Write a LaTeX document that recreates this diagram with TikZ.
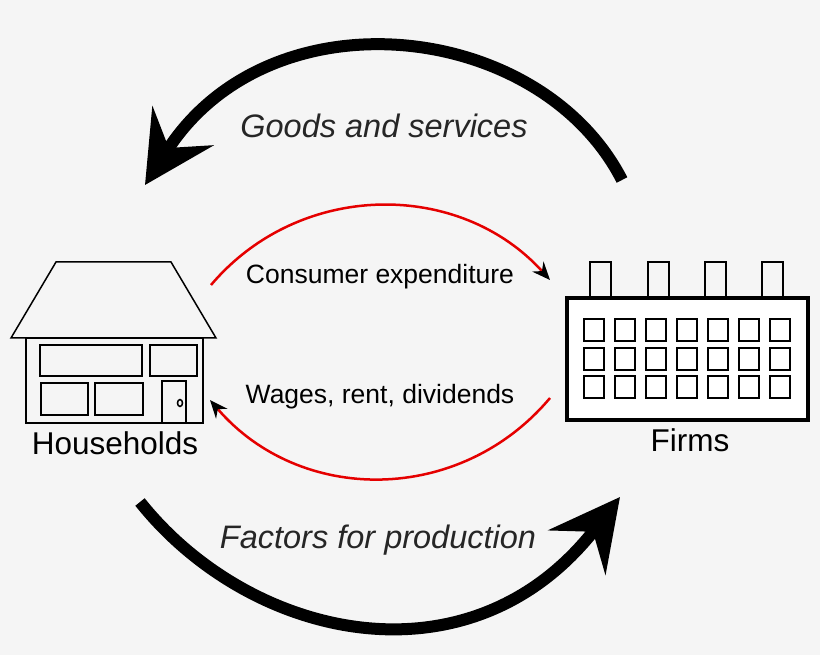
\documentclass[tikz,border=0pt]{standalone}
\usepackage{fontspec}
\setmainfont{Liberation Sans}
\usetikzlibrary{arrows.meta}
\begin{document}
\begin{tikzpicture}[x=1pt,y=-1pt,
  thin line/.style={line width=1.5pt,black},
  big/.style={line width=12pt,-{Stealth[length=70pt,width=72pt,inset=26pt]}},
  red arc/.style={line width=2.5pt,red!90!black,-{Stealth[length=18pt,width=15pt,inset=6pt,fill=black,color=black]}},
  lbl/.style={font=\fontsize{26.5}{30}\selectfont},
  ital/.style={font=\fontsize{32.5}{38}\selectfont\itshape,text=black!85},
  title/.style={font=\fontsize{31.5}{36}\selectfont}]
\fill[white!96!black] (0,0) rectangle (820,655);
\useasboundingbox (0,0) rectangle (820,655);
% house
\draw[thin line] (56,262) -- (171,262) -- (216,338) -- (11,338) -- cycle;
\draw[thin line] (26,338) rectangle (203,423);
\draw[thin line] (40,345) rectangle (142,376);
\draw[thin line] (150,345) rectangle (197,376);
\draw[thin line] (41,383) rectangle (88,415);
\draw[thin line] (95,383) rectangle (143,415);
\draw[line width=2pt] (162,381) rectangle (186,423);
\draw[thin line] (180,403) ellipse (2.5 and 3.5);
\node[title] (hh) at (115,443) {Households};
% factory
\foreach \x in {590,648,705,762} \draw[line width=2pt] (\x,262) rectangle ++(21,36);
\draw[line width=4pt,fill=white] (567,298) rectangle (808,420);
\foreach \i in {0,...,6} \foreach \y in {319,348,376}
  \draw[line width=2.5pt] (584+\i*31,\y) rectangle ++(20,22);
\node[title] (ff) at (690,440) {Firms};
% coordinates
\coordinate (a1) at (211,285); \coordinate (a2) at (550,280);
\coordinate (b1) at (550,398); \coordinate (b2) at (210,400);
\draw[red arc] (a1) .. controls (300,180) and (460,180) .. (a2);
\draw[red arc] (b1) .. controls (460,505) and (300,505) .. (b2);
\node[lbl] (ce) at (380,277) {Consumer expenditure};
\node[lbl] (wr) at (380,397) {Wages, rent, dividends};
\coordinate (g1) at (622,180); \coordinate (g2) at (145,185);
\coordinate (f1) at (140,502); \coordinate (f2) at (620,497);
\draw[big] (g1) .. controls (540,20) and (270,-10) .. (g2);
\draw[big] (f1) .. controls (250,640) and (470,690) .. (f2);
\node[ital] (gs) at (384,126) {Goods and services};
\node[ital] (fp) at (378,540) {Factors for production};
\end{tikzpicture}
\end{document}
